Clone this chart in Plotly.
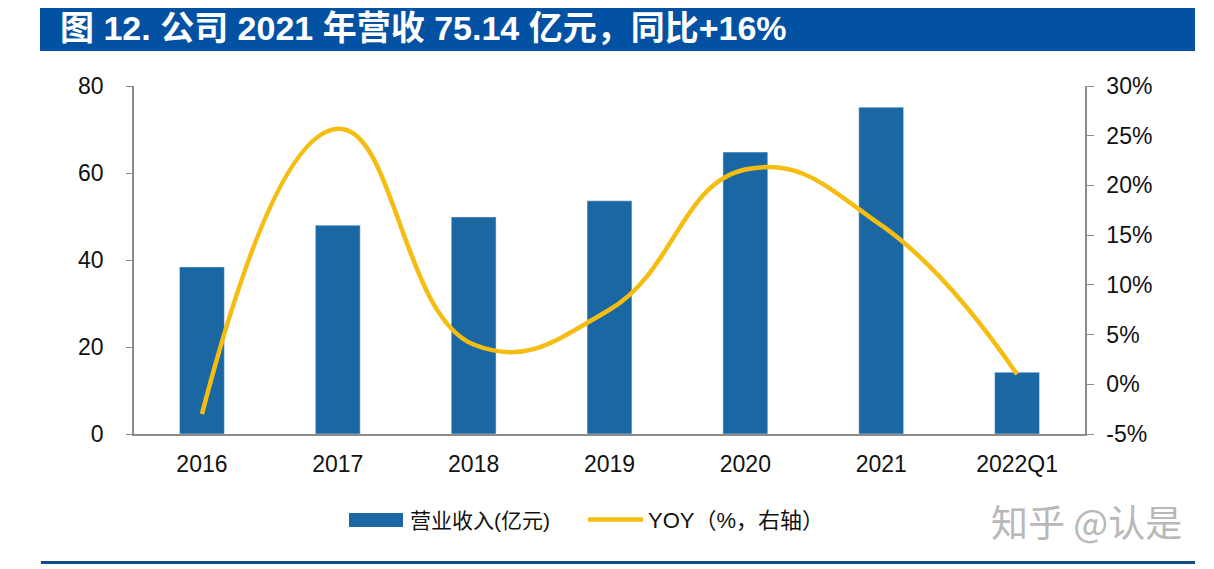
import plotly.graph_objects as go

# ---- data ----
categories = ["2016", "2017", "2018", "2019", "2020", "2021", "2022Q1"]
revenue = [38.4, 48.0, 49.9, 53.6, 64.8, 75.14, 14.2]      # 亿元
yoy = [-3.0, 25.7, 4.0, 7.5, 21.6, 16.0, 1.0]               # %
left_ticks = [0, 20, 40, 60, 80]
right_ticks = [-5, 0, 5, 10, 15, 20, 25, 30]
right_labels = [f"{v}%" for v in right_ticks]

title_text = "图 12. 公司 2021 年营收 75.14 亿元，同比+16%"
legend_bar = "营业收入(亿元)"
legend_line = "YOY（%，右轴）"
watermark = "知乎 @认是"

OFF = 8  # page body margin
W, H = 1214 - OFF, 569 - OFF
L, R, T, B = 134 - OFF, 1085 - OFF, 86 - OFF, 434 - OFF

def px(x):
    return (x - OFF - L) / (R - L)

def py(y):
    return (B - (y - OFF)) / (B - T)

BAR_C = "#1B67A3"
LINE_C = "#F5BD10"
AX_C = "#8C8C8C"
NUM_FONT = "Liberation Sans, Arial, sans-serif"
MIX_FONT = "Liberation Sans, Noto Sans CJK SC, sans-serif"
CJK_FONT = "Noto Sans CJK SC, sans-serif"

fig = go.Figure()
fig.add_trace(go.Bar(x=categories, y=revenue, marker_color=BAR_C, width=0.33,
                     name=legend_bar, showlegend=False))
fig.add_trace(go.Scatter(x=categories, y=yoy, yaxis="y2", mode="lines",
                         line=dict(color=LINE_C, width=4.5, shape="spline", smoothing=1.3),
                         name=legend_line, showlegend=False))

fig.update_layout(
    width=W, height=H, autosize=False,
    margin=dict(l=L, r=W - R, t=T, b=H - B, pad=0),
    paper_bgcolor="white", plot_bgcolor="white",
    showlegend=False,
    xaxis=dict(showline=True, linecolor=AX_C, linewidth=1.5, ticks="",
               tickfont=dict(family=NUM_FONT, size=23, color="#111"),
               ticklabelstandoff=9, showgrid=False, zeroline=False),
    yaxis=dict(range=[0, 80], tickvals=left_ticks, showline=True, linecolor=AX_C,
               linewidth=1.5, ticks="outside", ticklen=6, tickcolor=AX_C,
               tickfont=dict(family=NUM_FONT, size=23, color="#111"),
               ticklabelstandoff=18, showgrid=False, zeroline=False),
    yaxis2=dict(range=[-5, 30], tickvals=right_ticks, ticktext=right_labels, overlaying="y",
                side="right", showline=True, linecolor=AX_C, linewidth=1.5,
                ticks="outside", ticklen=7, tickcolor=AX_C,
                tickfont=dict(family=NUM_FONT, size=23, color="#111"),
                ticklabelstandoff=8, showgrid=False, zeroline=False),
)

shapes = [
    # header band
    dict(type="rect", xref="paper", yref="paper", x0=px(40), x1=px(1195), y0=py(51), y1=py(4),
         fillcolor="#0351A2", line=dict(width=0), layer="below"),
    # bottom rule
    dict(type="line", xref="paper", yref="paper", x0=px(41), x1=px(1195), y0=py(562.5), y1=py(562.5),
         line=dict(color="#124B86", width=3)),
    # legend swatches
    dict(type="rect", xref="paper", yref="paper", x0=px(349), x1=px(403), y0=py(527), y1=py(513),
         fillcolor=BAR_C, line=dict(width=0)),
    dict(type="line", xref="paper", yref="paper", x0=px(588), x1=px(643), y0=py(519.5), y1=py(519.5),
         line=dict(color=LINE_C, width=4.5)),
]

annotations = [
    dict(text="<b>" + title_text + "</b>", xref="paper", yref="paper", x=px(58), y=py(28),
         xanchor="left", yanchor="middle", showarrow=False,
         font=dict(family=MIX_FONT, size=34, color="white")),
    dict(text=legend_bar, xref="paper", yref="paper", x=px(408), y=py(520),
         xanchor="left", yanchor="middle", showarrow=False,
         font=dict(family=MIX_FONT, size=21, color="#111")),
    dict(text=legend_line, xref="paper", yref="paper", x=px(646), y=py(520),
         xanchor="left", yanchor="middle", showarrow=False,
         font=dict(family=MIX_FONT, size=22, color="#111")),
    dict(text=watermark, xref="paper", yref="paper", x=px(1184), y=py(521),
         xanchor="right", yanchor="middle", showarrow=False,
         font=dict(family=CJK_FONT, size=37, color="#B8B8B8")),
]
fig.update_layout(shapes=shapes, annotations=annotations)

fig.write_html("out.html")
